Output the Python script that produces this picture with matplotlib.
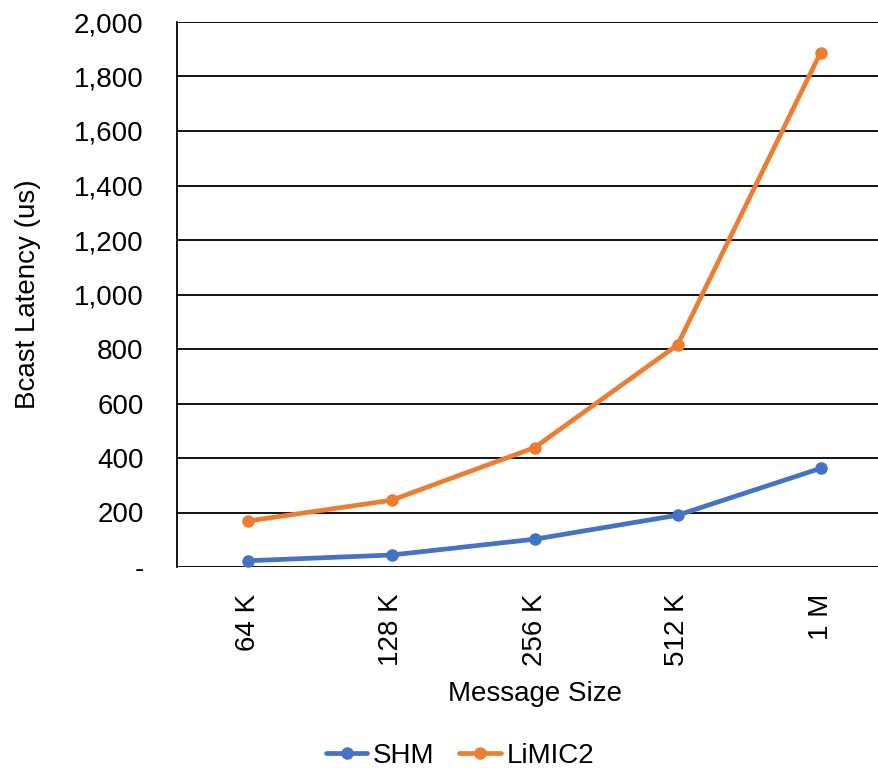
import matplotlib
matplotlib.use("Agg")
import matplotlib.pyplot as plt

plt.rcParams['font.family'] = ['Liberation Sans', 'DejaVu Sans']

sizes = ["64 K", "128 K", "256 K", "512 K", "1 M"]
shm = [23, 44, 102, 190, 362]
limic2 = [169, 245, 438, 815, 1887]
y_ticks = [0, 200, 400, 600, 800, 1000, 1200, 1400, 1600, 1800, 2000]

blue = "#4472C4"
orange = "#ED7D31"
fs = 20

fig = plt.figure(figsize=(8.79, 7.68), dpi=100)
ax = fig.add_axes([177 / 879, 1 - 567 / 768, 715 / 879, 545 / 768])

x = list(range(len(sizes)))
l1, = ax.plot(x, shm, color=blue, lw=3.4, marker="o", ms=8, label="SHM",
              solid_capstyle="round", zorder=3)
l2, = ax.plot(x, limic2, color=orange, lw=3.4, marker="o", ms=8, label="LiMIC2",
              solid_capstyle="round", zorder=3)

ax.set_xlim(-0.5, len(sizes) - 0.5)
ax.set_ylim(0, 2000)
ax.set_yticks(y_ticks)
ax.set_yticklabels(["-" if v == 0 else f"{v:,}" for v in y_ticks], fontsize=fs)
ax.set_xticks(x)
ax.set_xticklabels(sizes, rotation=90, fontsize=fs)
ax.tick_params(axis="both", length=0)
ax.tick_params(axis="y", pad=24)
ax.tick_params(axis="x", pad=19)

for v in y_ticks:
    ax.axhline(v, color="black", lw=1.3, zorder=1)

for s in ["top", "right", "bottom"]:
    ax.spines[s].set_visible(False)
ax.spines["left"].set_color("black")
ax.spines["left"].set_linewidth(1.3)

ax.set_ylabel("Bcast Latency (us)", fontsize=fs, labelpad=24)
ax.set_xlabel("Message Size", fontsize=fs, labelpad=11)

fig.legend(handles=[l1, l2], loc="center", bbox_to_anchor=(460 / 879, 1 - 756 / 768),
           ncol=2, frameon=False, fontsize=fs, handlelength=1.5, handletextpad=0.2,
           columnspacing=0.9, borderaxespad=0)

fig.savefig("out.png", dpi=100)
